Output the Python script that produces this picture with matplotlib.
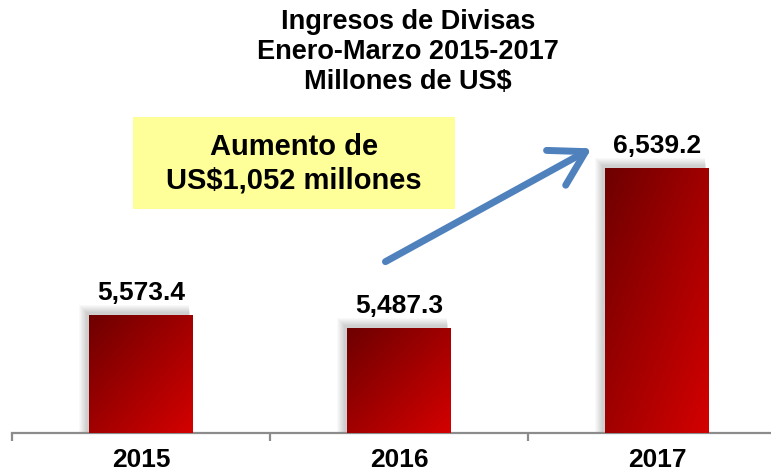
import matplotlib
matplotlib.use('Agg')
import matplotlib.pyplot as plt
import numpy as np
from matplotlib.colors import LinearSegmentedColormap
from matplotlib.patches import Rectangle, FancyArrowPatch

plt.rcParams['font.family'] = ['Liberation Sans', 'DejaVu Sans']

# datos
years = ['2015', '2016', '2017']
values = [5573.4, 5487.3, 6539.2]
value_labels = ['5,573.4', '5,487.3', '6,539.2']
title = 'Ingresos de Divisas\nEnero-Marzo 2015-2017\nMillones de US$'
note = 'Aumento de\nUS$1,052 millones'

W, H = 771, 475
fig = plt.figure(figsize=(W / 100, H / 100), dpi=100)

def px(x, y):
    # pixel (from top-left) -> figure fraction
    return x / W, 1 - y / H

ax = fig.add_axes([12 / W, 42 / H, 759 / W, 333 / H])
XLIM = (-0.5, 2.442)
YLIM = (4800, 6988)

x = np.arange(len(years))
bars = ax.bar(x, values, width=0.403, color='none', edgecolor='none', zorder=3)

red = LinearSegmentedColormap.from_list('rojo', ['#6E0000', '#D40000'])
u, v = np.meshgrid(np.linspace(0, 1, 200), np.linspace(0, 1, 200))
grad = (u + v) / 2  # top-left dark -> bottom-right bright

for b in bars:
    x0, w = b.get_x(), b.get_width()
    y0 = max(b.get_y(), YLIM[0])
    y1 = b.get_y() + b.get_height()
    ax.imshow(grad, cmap=red, extent=[x0, x0 + w, y0, y1],
              origin='upper', aspect='auto', zorder=3)

for s in ['top', 'right', 'left']:
    ax.spines[s].set_visible(False)
ax.spines['bottom'].set_color('#8C8C8C')
ax.spines['bottom'].set_linewidth(1.6)
ax.set_yticks([])
ax.set_xticks([-0.5, 0.5, 1.5, 2.5])
ax.set_xticklabels([])
ax.tick_params(axis='x', which='major', length=6, width=1.6, color='#8C8C8C')
ax.set_xticks(x, minor=True)
ax.set_xticklabels(years, minor=True, fontsize=19, fontweight='bold')
ax.tick_params(axis='x', which='minor', length=0, pad=11)

# limites al final (set_xticks los amplia)
ax.set_xlim(*XLIM)
ax.set_ylim(*YLIM)

fig.canvas.draw()
for b in bars:
    x0, w = b.get_x(), b.get_width()
    y1 = b.get_y() + b.get_height()
    (dx0, dy0) = ax.transData.transform((x0, YLIM[0]))
    (dx1, dy1) = ax.transData.transform((x0 + w, y1))
    # sombra suave (arriba-izquierda)
    for k in range(1, 9):
        r = Rectangle((dx0 - 2 - k, dy0), (dx1 - dx0) + 0.9 * k - 1, (dy1 - dy0) + 2 + k,
                      transform=None, facecolor='black', alpha=0.025,
                      edgecolor='none', zorder=2)
        ax.add_artist(r)

for xi, val, lab in zip(x, values, value_labels):
    ax.annotate(lab, (xi, val), xytext=(0, 11), textcoords='offset points',
                ha='center', va='baseline', fontsize=19, fontweight='bold')

fig.text(*px(408, 52), title, ha='center', va='center', fontsize=19.5,
         fontweight='bold', linespacing=1.2)

# recuadro amarillo
bx0, by0 = px(133, 209)
bx1, by1 = px(455, 117)
fig.patches.append(Rectangle((bx0, by0), bx1 - bx0, by1 - by0, transform=fig.transFigure,
                             facecolor='#FFFF99', edgecolor='none', zorder=1))
fig.text(*px(294, 164), note, ha='center', va='center', fontsize=21,
         fontweight='bold', linespacing=1.27)

# flecha
arr = FancyArrowPatch(px(383, 263), px(594, 147), transform=fig.transFigure,
                      arrowstyle='->,head_length=1.1,head_width=0.65',
                      color='#4F81BD', linewidth=5, capstyle='round',
                      joinstyle='round', mutation_scale=22)
fig.patches.append(arr)

fig.savefig('out.png', dpi=100)
